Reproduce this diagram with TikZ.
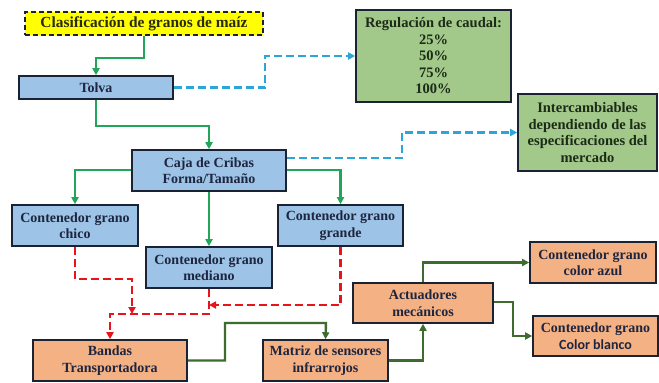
\documentclass[tikz,border=0pt]{standalone}
\usepackage{fontspec}
\setmainfont{Liberation Serif}
\newfontfamily\sansb{Carlito}
\usetikzlibrary{arrows.meta}
\definecolor{bfill}{HTML}{9DC3E6}
\definecolor{gfill}{HTML}{A2C98A}
\definecolor{ofill}{HTML}{F4B183}
\definecolor{yfill}{HTML}{FFFF00}
\definecolor{edge}{HTML}{1B2233}
\definecolor{txt}{HTML}{1E2540}
\definecolor{gtxt}{HTML}{1C2A18}
\definecolor{ytxt}{HTML}{2A2A12}
\definecolor{gline}{HTML}{21A657}
\definecolor{bline}{HTML}{2AA6D8}
\definecolor{rline}{HTML}{E8141C}
\definecolor{dline}{HTML}{3E6B2E}
\tikzset{
  box/.style={draw=edge, line width=1.6pt, align=center, text=txt, inner sep=1pt,
    font=\fontsize{14}{16.5}\selectfont\bfseries},
  bluebox/.style={box, fill=bfill},
  greenbox/.style={box, fill=gfill, text=gtxt},
  orangebox/.style={box, fill=ofill},
  titlebox/.style={box, fill=yfill, text=ytxt, dash pattern=on 5pt off 3pt, line width=1.8pt,
    font=\fontsize{15.4}{18}\selectfont\bfseries},
  garrow/.style={draw=gline, line width=2.4pt, -{Triangle[length=7pt,width=7pt]}},
  barrow/.style={draw=bline, line width=2.4pt, dash pattern=on 8pt off 4pt, -{Triangle[length=7pt,width=7pt]}},
  rarrow/.style={draw=rline, line width=2.4pt, dash pattern=on 8pt off 4pt, -{Triangle[length=7pt,width=7pt]}},
  darrow/.style={draw=dline, line width=2.4pt, -{Triangle[length=7pt,width=7pt]}},
}
\begin{document}
\begin{tikzpicture}[x=1pt,y=-1pt]
\useasboundingbox[fill=white] (0,0) rectangle (659,383);
\node[titlebox, minimum width=238pt, minimum height=23pt] (title) at (144,23.5) {Clasificación de granos de maíz};
\node[bluebox, minimum width=154pt, minimum height=23pt] (tolva) at (96,87.5) {Tolva};
\node[bluebox, minimum width=154pt, minimum height=41pt] (caja) at (209,170.5) {Caja de Cribas\\Forma/Tamaño};
\node[greenbox, minimum width=155pt, minimum height=92pt, font=\fontsize{14.5}{16.5}\selectfont\bfseries] (reg) at (433.5,56) {Regulación de caudal:\\25\%\\50\%\\75\%\\100\%};
\node[greenbox, minimum width=139pt, minimum height=77pt, font=\fontsize{14.5}{16.5}\selectfont\bfseries] (inter) at (587.5,132.5) {Intercambiables\\dependiendo de las\\especificaciones del\\mercado};
\node[bluebox, minimum width=126pt, minimum height=41pt] (chico) at (75,225.5) {Contenedor grano\\chico};
\node[bluebox, minimum width=126pt, minimum height=41pt] (mediano) at (209,267.5) {Contenedor grano\\mediano};
\node[bluebox, minimum width=125pt, minimum height=41pt] (grande) at (340.5,225.5) {Contenedor grano\\grande};
\node[orangebox, minimum width=154pt, minimum height=41pt] (bandas) at (110,360.5) {Bandas\\Transportadora};
\node[orangebox, minimum width=125pt, minimum height=41pt] (matriz) at (325.5,360.5) {Matriz de sensores\\infrarrojos};
\node[orangebox, minimum width=140pt, minimum height=40pt] (act) at (423,303) {Actuadores\\mecánicos};
\node[orangebox, minimum width=126pt, minimum height=41pt] (azul) at (593,262.5) {Contenedor grano\\color azul};
\node[orangebox, minimum width=125pt, minimum height=40pt] (blanco) at (595.5,336) {Contenedor grano\\{\sansb\bfseries Color blanco}};

% green flow
\draw[garrow] (title.south) -- ++(0,22) -| (tolva.north);
\draw[garrow] (tolva.south) -- ++(0,26) -| (caja.north);
\draw[garrow] (caja.west |- 0,170) -| (chico.north);
\draw[garrow] (caja.south) -- (mediano.north);
\draw[garrow] (caja.east |- 0,170) -| (grande.north);
% blue dashed
\draw[barrow] (tolva.east) -- (265,87.5) |- (reg.west);
\draw[barrow] (caja.east |- 0,158) -- (402,158) |- (inter.west);
% red dashed
\coordinate (rj) at (mediano.south |- 0,314);
\coordinate (rg) at (mediano.south |- 0,305);
\coordinate (rc) at (132,314);
\draw[rarrow] (chico.south) -- (75,279) -| (rc);
\draw[rarrow] (mediano.south) -- (rj) -| (bandas.north);
\draw[rarrow] (grande.south) |- (rg);
% dark green
\draw[darrow] (bandas.east) -- (225,360.5) |- (326,323) -- (matriz.north);
\draw[darrow] (matriz.east) -| (act.south);
\draw[darrow] (act.north) |- (azul.west);
\draw[darrow] (act.east |- 0,302) -- (513,302) |- (blanco.west);
\end{tikzpicture}
\end{document}
